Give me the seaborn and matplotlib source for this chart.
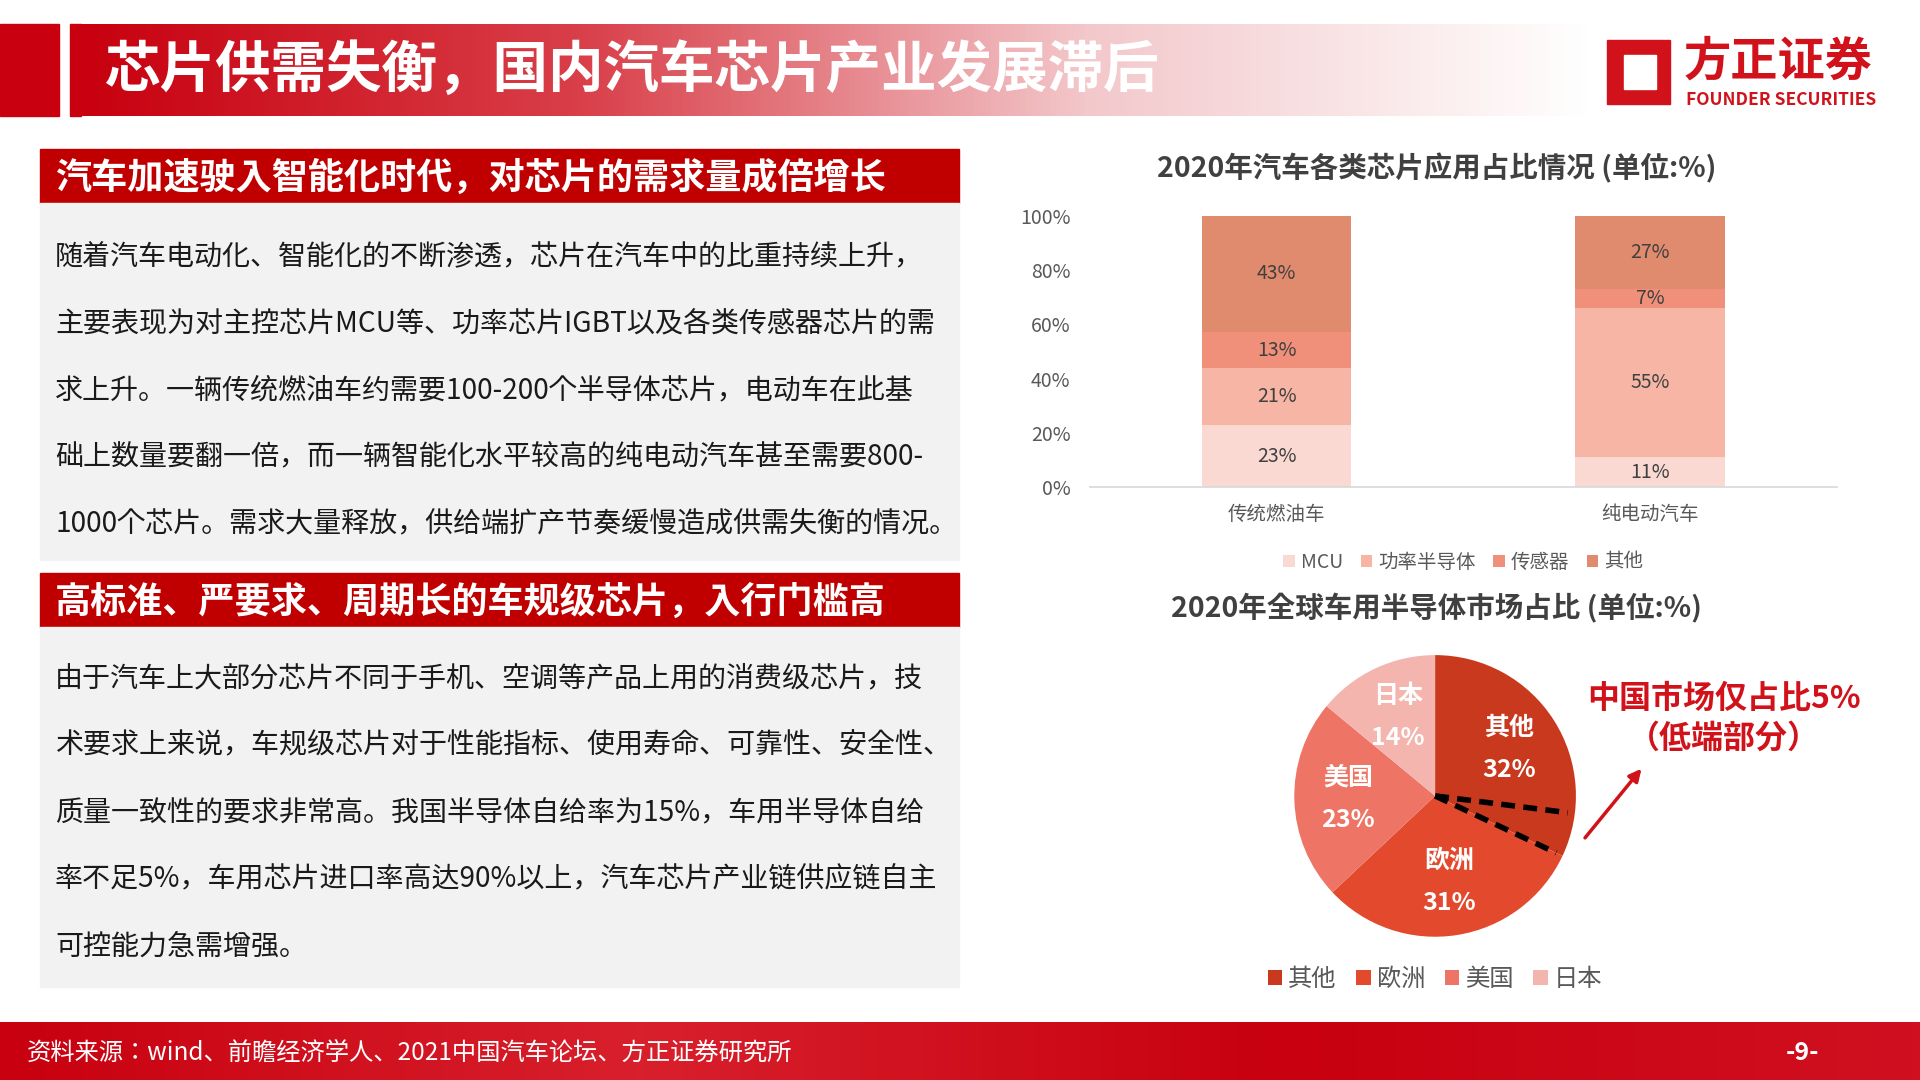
import numpy as np
import pandas as pd
import matplotlib
matplotlib.use("Agg")
import matplotlib.pyplot as plt
from matplotlib import font_manager as fm
from matplotlib.colors import LinearSegmentedColormap
from matplotlib.patches import Rectangle
import seaborn as sns

sns.set_theme(style="white")
cjk = sorted({f.name for f in fm.fontManager.ttflist if "CJK" in f.name})
pref = [n for n in ["Noto Sans CJK SC", "Noto Sans CJK JP", "Noto Sans CJK TC", "Noto Sans CJK KR"] if n in cjk] + cjk
plt.rcParams["font.family"] = "sans-serif"
plt.rcParams["font.sans-serif"] = pref + ["DejaVu Sans"]

# ---------------- data ----------------
bar_categories = ["传统燃油车", "纯电动汽车"]
bar_series = ["MCU", "功率半导体", "传感器", "其他"]
mcu = [23, 11]
power = [21, 55]
sensor = [13, 7]
other = [43, 27]
bar_colors = ["#F9D9D2", "#F6B5A5", "#F0907A", "#E08A6E"]

pie_labels = ["其他", "欧洲", "美国", "日本"]
pie_values = [32, 31, 23, 14]
pie_colors = ["#C8391D", "#E2492D", "#EE7565", "#F4B5AE"]

yticks = [0, 20, 40, 60, 80, 100]

W, H = 1568.0, 882.0
def fx(x): return x / W
def fy(y): return 1 - y / H

fig = plt.figure(figsize=(19.2, 10.8), dpi=100)
fig.patch.set_facecolor("white")
bg = fig.add_axes([0, 0, 1, 1]); bg.set_xlim(0, W); bg.set_ylim(H, 0); bg.axis("off")

# header
red = "#C8000F"
bg.add_patch(Rectangle((0, 20), 48, 75, color=red))
bg.add_patch(Rectangle((57, 20), 9, 75, color=red))
grad = LinearSegmentedColormap.from_list("g", ["#C8000F", "#D9404A", "#F3C8CB", "#FFFFFF"])
bg.imshow(np.linspace(0, 1, 256)[None, :], cmap=grad, extent=(66, 1300, 95, 20), aspect="auto", zorder=0)
bg.text(85, 58, "芯片供需失衡，国内汽车芯片产业发展滞后", color="white", fontsize=40,
        fontweight="bold", va="center", ha="left")
# logo
bg.add_patch(Rectangle((1312, 33), 52, 52, color="#D1121B"))
bg.add_patch(Rectangle((1326, 45), 26, 28, color="white"))
bg.text(1375, 50, "方正证券", color="#D1121B", fontsize=34, fontweight="bold", va="center")
bg.text(1377, 82, "FOUNDER SECURITIES", color="#D1121B", fontsize=12.5, fontweight="bold", va="center")

# left boxes
def box(y0, y1, y2, title, lines, ys):
    bg.add_patch(Rectangle((33, y0), 750, y1 - y0, color="#C00000"))
    bg.add_patch(Rectangle((33, y1), 750, y2 - y1, color="#F2F2F2"))
    bg.text(45, (y0 + y1) / 2 + 2, title, color="white", fontsize=26, fontweight="bold", va="center")
    for t, yy in zip(lines, ys):
        bg.text(45, yy, t, color="#1A1A1A", fontsize=20.2, va="center")

box(122, 166, 457, "汽车加速驶入智能化时代，对芯片的需求量成倍增长",
    ["随着汽车电动化、智能化的不断渗透，芯片在汽车中的比重持续上升，",
     "主要表现为对主控芯片MCU等、功率芯片IGBT以及各类传感器芯片的需",
     "求上升。一辆传统燃油车约需要100-200个半导体芯片，电动车在此基",
     "础上数量要翻一倍，而一辆智能化水平较高的纯电动汽车甚至需要800-",
     "1000个芯片。需求大量释放，供给端扩产节奏缓慢造成供需失衡的情况。"],
    [210, 264, 319, 373, 428])
box(468, 512, 806, "高标准、严要求、周期长的车规级芯片，入行门槛高",
    ["由于汽车上大部分芯片不同于手机、空调等产品上用的消费级芯片，技",
     "术要求上来说，车规级芯片对于性能指标、使用寿命、可靠性、安全性、",
     "质量一致性的要求非常高。我国半导体自给率为15%，车用半导体自给",
     "率不足5%，车用芯片进口率高达90%以上，汽车芯片产业链供应链自主",
     "可控能力急需增强。"],
    [554, 609, 664, 718, 773])

# footer
fgrad = LinearSegmentedColormap.from_list("f", ["#C8000F", "#D8202C", "#C8000F", "#D01020"])
bg.imshow(np.linspace(0, 1, 256)[None, :], cmap=fgrad, extent=(0, W, 882, 835), aspect="auto", zorder=0)
bg.text(22, 860, "资料来源：wind、前瞻经济学人、2021中国汽车论坛、方正证券研究所", color="white",
        fontsize=17.5, style="italic", va="center")
bg.text(1472, 860, "-9-", color="white", fontsize=18, fontweight="bold", va="center", ha="center")

# ---------------- stacked bar ----------------
ax = fig.add_axes([fx(890), fy(398), fx(1500) - fx(890), fy(176) - fy(398)])
layers = [mcu, power, sensor, other]
cum = np.cumsum(np.array(layers), axis=0)
for i in range(len(layers) - 1, -1, -1):
    df = pd.DataFrame({"cat": bar_categories, "val": cum[i]})
    sns.barplot(data=df, x="cat", y="val", color=bar_colors[i], width=0.4, ax=ax,
                saturation=1, edgecolor="none", label=bar_series[i])
for i, lay in enumerate(layers):
    for j, v in enumerate(lay):
        ax.text(j, cum[i][j] - v / 2, f"{v}%", ha="center", va="center", fontsize=14, color="#404040")
ax.set_ylim(0, 100)
ax.set_xlim(-0.5, 1.5)
ax.set_yticks(yticks)
ax.set_yticklabels([f"{t}%" for t in yticks], fontsize=14, color="#595959")
ax.tick_params(axis="x", labelsize=14, colors="#595959", length=0, pad=12)
ax.tick_params(axis="y", length=0, pad=14)
ax.set_xlabel(""); ax.set_ylabel("")
for s in ["top", "right", "left"]:
    ax.spines[s].set_visible(False)
ax.spines["bottom"].set_color("#D9D9D9")
h, l = ax.get_legend_handles_labels()
hd = dict(zip(l, h))
ax.legend([hd[s] for s in bar_series], bar_series, loc="center", bbox_to_anchor=(0.5, -0.275),
          ncol=4, frameon=False, fontsize=14, handlelength=0.6, handleheight=0.6,
          columnspacing=0.9, handletextpad=0.3, labelcolor="#595959")
fig.text(fx(1173), fy(137), "2020年汽车各类芯片应用占比情况 (单位:%)", ha="center", va="center",
         fontsize=20.5, fontweight="bold", color="#404040")

# ---------------- pie ----------------
fig.text(fx(1173), fy(497), "2020年全球车用半导体市场占比 (单位:%)", ha="center", va="center",
         fontsize=20.5, fontweight="bold", color="#404040")
r = 115
pax = fig.add_axes([fx(1172 - r), fy(650 + r), fx(2 * r), (2 * r) / H])
wedges, _ = pax.pie(pie_values, colors=pie_colors, startangle=90, counterclock=False,
                    wedgeprops=dict(edgecolor="none"))
pax.set_aspect("auto")
pax.set_xlim(-1, 1); pax.set_ylim(-1, 1)
cum_p = np.cumsum([0] + pie_values)
for k, (lab, v) in enumerate(zip(pie_labels, pie_values)):
    mid = 90 - (cum_p[k] + v / 2) * 3.6
    rr = 0.62
    x, y = rr * np.cos(np.radians(mid)), rr * np.sin(np.radians(mid))
    pax.text(x, y + 0.15, lab, ha="center", va="center", color="white", fontsize=18, fontweight="bold")
    pax.text(x, y - 0.15, f"{v}%", ha="center", va="center", color="white", fontsize=18, fontweight="bold")
a1 = 90 - 32 * 3.6
a2 = a1 + 5 * 3.6
for a in (a1, a2):
    pax.plot([0, 0.95 * np.cos(np.radians(a))], [0, 0.95 * np.sin(np.radians(a))],
             color="black", lw=4, ls=(0, (2.5, 1.5)))
pax.legend(wedges, pie_labels, loc="center", bbox_to_anchor=(0.5, -0.15), ncol=4, frameon=False,
           fontsize=17.5, handlelength=0.6, handleheight=0.6, columnspacing=0.8, handletextpad=0.25,
           labelcolor="#595959")
fig.text(fx(1408), fy(571), "中国市场仅占比5%", ha="center", va="center", color="#D1121B",
         fontsize=23, fontweight="bold")
fig.text(fx(1408), fy(603), "（低端部分）", ha="center", va="center", color="#D1121B",
         fontsize=23, fontweight="bold")
bg.annotate("", xy=(1342, 626), xytext=(1293, 686),
            arrowprops=dict(arrowstyle="-|>", color="#D1121B", lw=2.5, mutation_scale=18))

fig.savefig("out.png", dpi=100)
